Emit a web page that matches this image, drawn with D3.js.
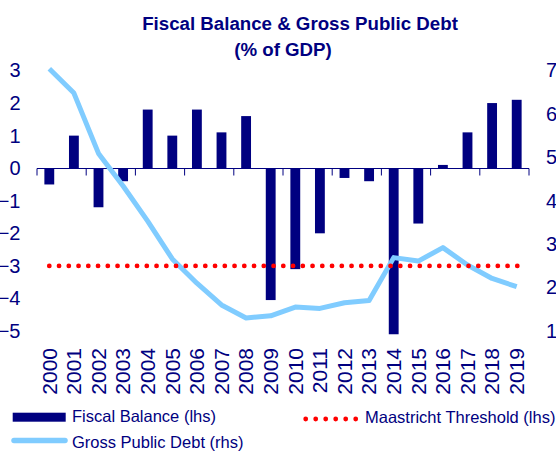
<!DOCTYPE html>
<html>
<head>
<meta charset="utf-8">
<script src="https://cdn.jsdelivr.net/npm/d3@7"></script>
<style>
  html, body { margin: 0; padding: 0; background: #fff; overflow: hidden; }
  text { font-family: "Liberation Sans", Arial, sans-serif; fill: #000080; }
</style>
</head>
<body>
<svg id="chart" width="556" height="452"></svg>
<script>
// Fiscal balance and gross public debt, % of GDP
const years = ["2000","2001","2002","2003","2004","2005","2006","2007","2008","2009",
               "2010","2011","2012","2013","2014","2015","2016","2017","2018","2019"];
const fiscalBalance = [-0.5, 1.0, -1.2, -0.4, 1.8, 1.0, 1.8, 1.1, 1.6, -4.05,
                       -3.1, -2.0, -0.3, -0.4, -5.1, -1.7, 0.1, 1.1, 2.0, 2.1];
const grossDebt = [70.4, 64.8, 50.9, 43.4, 35.3, 26.6, 21.0, 16.0, 13.0, 13.5,
                   15.5, 15.2, 16.5, 17.0, 26.9, 26.1, 29.2, 25.2, 22.1, 20.2];
const maastricht = -3;
const leftTicks = [3, 2, 1, 0, -1, -2, -3, -4, -5];
const rightTicks = [70, 60, 50, 40, 30, 20, 10];

const navy = "#000080", sky = "#80CCFF", red = "#FF0000";
const svg = d3.select("#chart");

const x = d3.scaleBand().domain(years).range([37, 529]).padding(0);
const yL = d3.scaleLinear().domain([-5, 3]).range([331, 70.5]);
const yR = d3.scaleLinear().domain([10, 70]).range([331, 70.5]);
const cx = d => x(d) + x.bandwidth() / 2;

// Title
svg.append("text").attr("x", 300).attr("y", 29.5).attr("text-anchor", "middle")
  .style("font-size", "18.7px").style("font-weight", "bold")
  .text("Fiscal Balance & Gross Public Debt");
svg.append("text").attr("x", 283).attr("y", 55.5).attr("text-anchor", "middle")
  .style("font-size", "18.7px").style("font-weight", "bold")
  .text("(% of GDP)");

// Left axis (fiscal balance)
const gL = svg.append("g").attr("transform", "translate(20.5,0)")
  .call(d3.axisLeft(yL).tickValues(leftTicks).tickSize(0).tickPadding(0).tickFormat(d3.format("d")));
gL.select(".domain").remove();
gL.selectAll("text").style("font-size", "20px").attr("fill", navy);

// Right axis (gross debt)
const gR = svg.append("g").attr("transform", "translate(546,0)")
  .call(d3.axisRight(yR).tickValues(rightTicks).tickSize(0).tickPadding(0));
gR.select(".domain").remove();
gR.selectAll("text").style("font-size", "20px").attr("fill", navy);

// Bars
const barW = x.step() * 0.4;
svg.append("g").selectAll("rect").data(years).join("rect")
  .attr("x", (d) => cx(d) - barW / 2)
  .attr("width", barW)
  .attr("y", (d, i) => Math.min(yL(0), yL(fiscalBalance[i])))
  .attr("height", (d, i) => Math.abs(yL(fiscalBalance[i]) - yL(0)))
  .attr("fill", navy);

// Zero line with ticks every two years
const y0 = Math.round(yL(0)) + 0.5;
svg.append("line").attr("x1", x.range()[0]).attr("x2", x.range()[1])
  .attr("y1", y0).attr("y2", y0).attr("stroke", navy).attr("stroke-width", 1);
const tickPos = d3.range(0, years.length + 1, 2).map(i => x.range()[0] + i * x.step());
svg.append("g").selectAll("line").data(tickPos).join("line")
  .attr("x1", d => d).attr("x2", d => d)
  .attr("y1", y0).attr("y2", y0 + 7)
  .attr("stroke", navy).attr("stroke-width", 1);

// Gross public debt line
svg.append("path").datum(grossDebt)
  .attr("fill", "none").attr("stroke", sky).attr("stroke-width", 5)
  .attr("stroke-linejoin", "round")
  .attr("d", d3.line().x((d, i) => cx(years[i])).y(d => yR(d)));

// Maastricht threshold
svg.append("line")
  .attr("x1", cx(years[0])).attr("x2", cx(years[years.length - 1]) + 1)
  .attr("y1", yL(maastricht)).attr("y2", yL(maastricht))
  .attr("stroke", red).attr("stroke-width", 4.8)
  .attr("stroke-linecap", "round").attr("stroke-dasharray", "0,9.75");

// Year labels
svg.append("g").selectAll("text").data(years).join("text")
  .attr("transform", d => `translate(${cx(d)},348) rotate(-90)`)
  .attr("text-anchor", "end").attr("dy", "0.35em")
  .style("font-size", "21px")
  .text(d => d);

// Legend
const leg = svg.append("g");
leg.append("rect").attr("x", 12.7).attr("y", 412.7).attr("width", 53).attr("height", 9).attr("fill", navy);
leg.append("text").attr("x", 72).attr("y", 422.3).style("font-size", "16.5px").text("Fiscal Balance (lhs)");
leg.append("line").attr("x1", 305.7).attr("x2", 356).attr("y1", 419).attr("y2", 419)
  .attr("stroke", red).attr("stroke-width", 4.8)
  .attr("stroke-linecap", "round").attr("stroke-dasharray", "0,10");
leg.append("text").attr("x", 365).attr("y", 422.5).style("font-size", "16.5px").text("Maastricht Threshold (lhs)");
leg.append("line").attr("x1", 14).attr("x2", 65).attr("y1", 440.5).attr("y2", 440.5)
  .attr("stroke", sky).attr("stroke-width", 5.5).attr("stroke-linecap", "round");
leg.append("text").attr("x", 72).attr("y", 447.7).style("font-size", "16.5px").text("Gross Public Debt (rhs)");
</script>
</body>
</html>
